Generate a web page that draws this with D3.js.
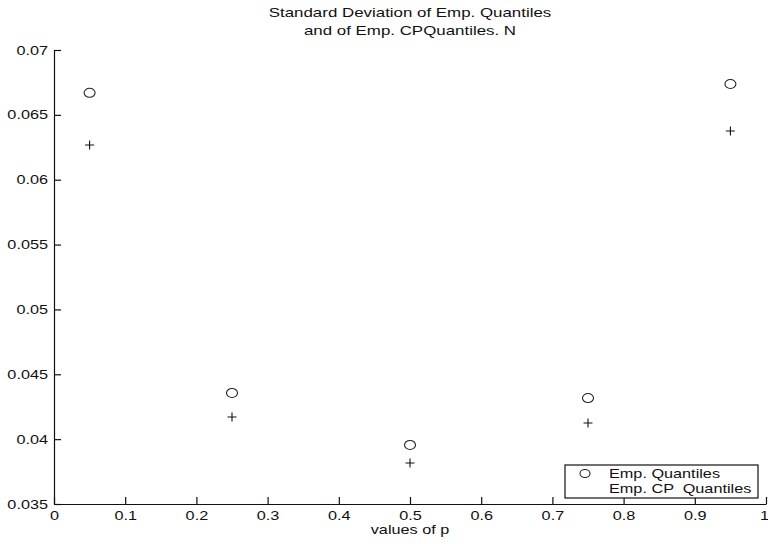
<!DOCTYPE html>
<html>
<head>
<meta charset="utf-8">
<script src="https://cdn.jsdelivr.net/npm/d3@7"></script>
<style>
  body { margin: 0; background: #fff; }
  svg text { font-family: "Liberation Sans", Arial, sans-serif; fill: #111; white-space: pre; }
</style>
</head>
<body>
<svg id="chart" width="768" height="544"></svg>
<script>
"use strict";

// values of p
var pValues = [0.05, 0.25, 0.5, 0.75, 0.95];
// std of empirical quantiles (circles)
var empQuantiles = [0.0667, 0.04356, 0.03955, 0.04317, 0.06738];
// std of empirical CP quantiles (plus signs)
var empCPQuantiles = [0.06268, 0.04171, 0.03816, 0.04124, 0.06376];

var xTicks = [0, 0.1, 0.2, 0.3, 0.4, 0.5, 0.6, 0.7, 0.8, 0.9, 1];
var yTicks = [0.035, 0.04, 0.045, 0.05, 0.055, 0.06, 0.065, 0.07];

var titleLines = ["Standard Deviation of Emp. Quantiles", "and of Emp. CPQuantiles. N"];
var legendLabels = ["Emp. Quantiles", "Emp. CP  Quantiles"];

var plotLeft = 54, plotRight = 766, plotTop = 50, plotBottom = 504;
var textStretch = 1.3;

// the picture's text is wider than normal, so stretch it horizontally
function stretch(sel, sx) {
  sel.each(function () {
    var t = d3.select(this);
    var x0 = +t.attr("x") || 0, y0 = +t.attr("y") || 0;
    t.attr("x", 0).attr("y", 0)
      .attr("transform", "translate(" + x0 + "," + y0 + ") scale(" + sx + ",1)");
  });
}

var svg = d3.select("#chart");

var x = d3.scaleLinear().domain([0, 1]).range([plotLeft, plotRight]);
var y = d3.scaleLinear().domain([0.035, 0.07]).range([plotBottom, plotTop]);

var xAxis = d3.axisBottom(x)
  .tickValues(xTicks)
  .tickFormat(d3.format("~g"))
  .tickSizeInner(-7)
  .tickSizeOuter(0)
  .tickPadding(12);

var yAxis = d3.axisLeft(y)
  .tickValues(yTicks)
  .tickFormat(d3.format("~g"))
  .tickSizeInner(-7)
  .tickSizeOuter(0)
  .tickPadding(6);

var gx = svg.append("g")
  .attr("transform", "translate(0," + plotBottom + ")")
  .call(xAxis);

var gy = svg.append("g")
  .attr("transform", "translate(" + plotLeft + ",0)")
  .call(yAxis);

[gx, gy].forEach(function (g) {
  g.selectAll("path, line").attr("stroke", "#111").attr("stroke-width", 1.2);
  g.selectAll("text").attr("font-size", 12.5)
    .style("font-family", "Liberation Sans, Arial, sans-serif").attr("fill", "#111");
});
gx.selectAll("text").attr("dy", "0.35em");
// keep the last label inside the picture
gx.selectAll("text").filter(function (d) { return d === 1; }).attr("x", -2);
stretch(gx.selectAll("text"), textStretch);
stretch(gy.selectAll("text"), textStretch);

// title
svg.selectAll("text.title")
  .data(titleLines)
  .enter()
  .append("text")
  .attr("class", "title")
  .attr("x", (plotLeft + plotRight) / 2)
  .attr("y", function (d, i) { return 17 + i * 18; })
  .attr("text-anchor", "middle")
  .attr("font-size", 13)
  .text(function (d) { return d; })
  .call(stretch, textStretch);

// x label
svg.append("text")
  .attr("x", (plotLeft + plotRight) / 2)
  .attr("y", 534)
  .attr("text-anchor", "middle")
  .attr("font-size", 12.5)
  .text("values of p")
  .call(stretch, textStretch);

// circles
svg.selectAll("ellipse.emp")
  .data(pValues)
  .enter()
  .append("ellipse")
  .attr("class", "emp")
  .attr("cx", function (d) { return x(d); })
  .attr("cy", function (d, i) { return y(empQuantiles[i]); })
  .attr("rx", 5.5)
  .attr("ry", 4.5)
  .attr("fill", "none")
  .attr("stroke", "#222")
  .attr("stroke-width", 1.1);

// plus signs
svg.selectAll("path.cp")
  .data(pValues)
  .enter()
  .append("path")
  .attr("class", "cp")
  .attr("d", function (d, i) {
    var cx = x(d), cy = y(empCPQuantiles[i]);
    return "M" + (cx - 4.5) + "," + cy + "H" + (cx + 4.5) + "M" + cx + "," + (cy - 4.5) + "V" + (cy + 4.5);
  })
  .attr("stroke", "#111")
  .attr("stroke-width", 1.1);

// legend
var legend = svg.append("g");
legend.append("rect")
  .attr("x", 565).attr("y", 465)
  .attr("width", 193).attr("height", 33)
  .attr("fill", "#fff")
  .attr("stroke", "#111")
  .attr("stroke-width", 1.2);
legend.append("ellipse")
  .attr("cx", 585).attr("cy", 473.5)
  .attr("rx", 5).attr("ry", 4)
  .attr("fill", "none").attr("stroke", "#222").attr("stroke-width", 1.1);
legend.selectAll("text")
  .data(legendLabels)
  .enter()
  .append("text")
  .attr("x", 609)
  .attr("y", function (d, i) { return 478 + i * 15; })
  .attr("font-size", 12.5)
  .text(function (d) { return d; })
  .call(stretch, textStretch);
</script>
</body>
</html>
